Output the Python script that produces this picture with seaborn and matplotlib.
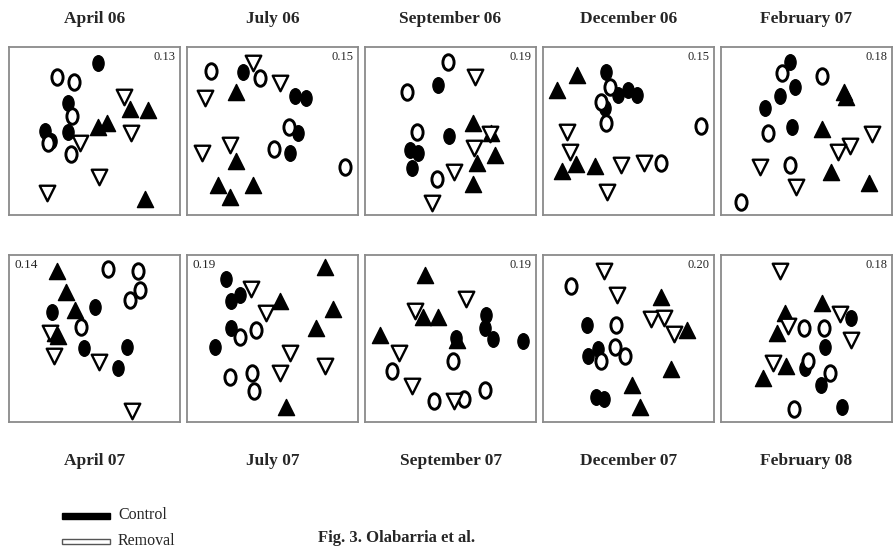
import numpy as np
import pandas as pd
import matplotlib
matplotlib.use("Agg")
import matplotlib.pyplot as plt
import seaborn as sns
from matplotlib.path import Path
from matplotlib.patches import Rectangle

sns.set_theme(style="white")
plt.rcParams['font.family'] = ['Liberation Serif', 'DejaVu Serif']

# ---------------- data (nMDS scores, arbitrary units; y grows downward) ----------------
titles = ["April 06", "July 06", "September 06", "December 06", "February 07",
          "April 07", "July 07", "September 07", "December 07", "February 08"]
stress = ["0.13", "0.15", "0.19", "0.15", "0.18",
          "0.14", "0.19", "0.19", "0.20", "0.18"]

# Each panel: control-circle (filled), removal-circle (open),
#             control-triangle (filled up), removal-triangle (open down)
apr06_cc = [(278, 68), (190, 188), (120, 272), (190, 275), (138, 302)]
apr06_rc = [(155, 110), (208, 125), (200, 228), (198, 342), (130, 308)]
apr06_ct = [(375, 208), (428, 210), (278, 262), (305, 250), (420, 478)]
apr06_rt = [(358, 172), (225, 308), (378, 280), (283, 412), (125, 458)]

jul06_cc = [(180, 95), (335, 168), (370, 175), (345, 278), (322, 340)]
jul06_rc = [(85, 92), (230, 115), (318, 262), (272, 328), (485, 382)]
jul06_ct = [(160, 155), (160, 362), (105, 435), (210, 435), (140, 470)]
jul06_rt = [(210, 70), (292, 130), (65, 175), (58, 340), (140, 315)]

sep06_cc = [(235, 135), (268, 288), (150, 330), (175, 338), (155, 385)]
sep06_rc = [(265, 65), (140, 155), (172, 275), (232, 418)]
sep06_ct = [(338, 250), (392, 278), (405, 345), (352, 368), (338, 432)]
sep06_rt = [(345, 112), (390, 282), (343, 325), (283, 395), (215, 488)]

dec06_cc = [(205, 95), (240, 165), (270, 150), (298, 165), (200, 205)]
dec06_rc = [(215, 140), (190, 185), (205, 250), (488, 258), (370, 368)]
dec06_ct = [(118, 105), (58, 150), (72, 392), (115, 372), (172, 378)]
dec06_rt = [(88, 275), (95, 335), (248, 375), (318, 368), (208, 455)]

feb07_cc = [(225, 65), (240, 140), (195, 168), (150, 205), (232, 260)]
feb07_rc = [(200, 100), (322, 108), (158, 278), (225, 375), (78, 485)]
feb07_ct = [(388, 155), (392, 170), (320, 268), (348, 395), (462, 428)]
feb07_rt = [(470, 282), (405, 318), (370, 335), (135, 380), (242, 440)]

apr07_cc = [(142, 185), (270, 170), (238, 295), (365, 290), (340, 355)]
apr07_rc = [(310, 58), (400, 62), (405, 120), (375, 150), (228, 230)]
apr07_ct = [(155, 62), (182, 125), (210, 180), (160, 258), (150, 250)]
apr07_rt = [(135, 248), (148, 318), (282, 335), (380, 482)]

jul07_cc = [(130, 88), (172, 135), (145, 152), (145, 235), (95, 290)]
jul07_rc = [(218, 240), (172, 260), (142, 382), (208, 368), (212, 422)]
jul07_ct = [(425, 50), (292, 152), (450, 178), (398, 235), (310, 470)]
jul07_rt = [(205, 118), (250, 188), (322, 308), (292, 370), (425, 348)]

sep07_cc = [(378, 195), (375, 235), (400, 268), (488, 272), (288, 265)]
sep07_rc = [(278, 332), (95, 362), (222, 452), (312, 448), (375, 420)]
sep07_ct = [(195, 75), (190, 200), (235, 200), (60, 255), (290, 270)]
sep07_rt = [(318, 148), (165, 182), (118, 310), (155, 408), (282, 452)]

dec07_cc = [(148, 225), (180, 298), (150, 318), (175, 440), (198, 448)]
dec07_rc = [(100, 108), (235, 225), (230, 292), (262, 318), (190, 332)]
dec07_ct = [(370, 140), (448, 240), (398, 358), (282, 405), (305, 470)]
dec07_rt = [(198, 62), (238, 135), (340, 208), (378, 205), (408, 252)]

feb08_cc = [(408, 205), (330, 292), (270, 355), (318, 405), (380, 470)]
feb08_rc = [(268, 235), (328, 235), (278, 332), (345, 368), (238, 478)]
feb08_ct = [(320, 160), (210, 190), (185, 248), (212, 348), (145, 385)]
feb08_rt = [(195, 62), (375, 192), (220, 228), (408, 270), (175, 338)]

panels = [
    (apr06_cc, apr06_rc, apr06_ct, apr06_rt),
    (jul06_cc, jul06_rc, jul06_ct, jul06_rt),
    (sep06_cc, sep06_rc, sep06_ct, sep06_rt),
    (dec06_cc, dec06_rc, dec06_ct, dec06_rt),
    (feb07_cc, feb07_rc, feb07_ct, feb07_rt),
    (apr07_cc, apr07_rc, apr07_ct, apr07_rt),
    (jul07_cc, jul07_rc, jul07_ct, jul07_rt),
    (sep07_cc, sep07_rc, sep07_ct, sep07_rt),
    (dec07_cc, dec07_rc, dec07_ct, dec07_rt),
    (feb08_cc, feb08_rc, feb08_ct, feb08_rt),
]
groups = ["Control circle", "Removal circle", "Control triangle", "Removal triangle"]

rows = []
for i, pan in enumerate(panels):
    for g, pts in zip(groups, pan):
        for (x, y) in pts:
            rows.append({"panel": i, "group": g, "MDS1": x, "MDS2": y})
df = pd.DataFrame(rows)

# ---------------- figure ----------------
W, H = 893, 552
fig = plt.figure(figsize=(W / 100, H / 100), dpi=100)

circ = Path.unit_circle()
ellipse = Path(circ.vertices * np.array([0.72, 1.0]), circ.codes)

styles = {
    "Control circle":   dict(marker=ellipse, color="black", edgecolor="black", s=125, linewidth=1.0),
    "Removal circle":   dict(marker=ellipse, color="white", edgecolor="black", s=125, linewidth=2.1),
    "Control triangle": dict(marker="^", color="black", edgecolor="black", s=135, linewidth=1.0),
    "Removal triangle": dict(marker="v", color="white", edgecolor="black", s=125, linewidth=1.7),
}

lefts = [9, 187, 365, 543, 721]
zoom_off = [5, 183, 360, 538, 715]
pw = 171
row_tb = [(47, 215, 40), (255, 422, 250)]

for i in range(10):
    r, c = divmod(i, 5)
    top, bot, zoff_y = row_tb[r]
    ax = fig.add_axes([lefts[c] / W, 1 - bot / H, pw / W, (bot - top) / H])
    sub = df[df.panel == i]
    for g in groups:
        d = sub[sub.group == g]
        sns.scatterplot(data=d, x="MDS1", y="MDS2", ax=ax, legend=False,
                        zorder=3, **styles[g])
    x0 = (lefts[c] - zoom_off[c]) * 3
    ax.set_xlim(x0, x0 + pw * 3)
    ax.set_ylim((bot - zoff_y) * 3, (top - zoff_y) * 3)
    ax.set_xticks([]); ax.set_yticks([])
    ax.set_xlabel(""); ax.set_ylabel("")
    for sp in ax.spines.values():
        sp.set_color("#8a8a8a"); sp.set_linewidth(1.3)
    if i in (5, 6):
        ax.text(0.03, 0.975, stress[i], transform=ax.transAxes, ha="left", va="top", fontsize=9.5)
    else:
        ax.text(0.975, 0.975, stress[i], transform=ax.transAxes, ha="right", va="top", fontsize=9)
    cx = (lefts[c] + pw / 2) / W
    if r == 0:
        fig.text(cx, 1 - 19 / H, titles[i], ha="center", va="center", fontsize=12.5, fontweight="bold")
    else:
        fig.text(cx, 1 - 461 / H, titles[i], ha="center", va="center", fontsize=12.5, fontweight="bold")

# legend drawn as a small overlay axes
lax = fig.add_axes([0, 0, 1, 1], facecolor="none")
lax.set_xlim(0, W); lax.set_ylim(H, 0); lax.axis("off")
lax.add_patch(Rectangle((62, 513), 48, 6, facecolor="black", edgecolor="black"))
lax.add_patch(Rectangle((62, 539), 48, 5, facecolor="white", edgecolor="#555555", linewidth=1))
lax.text(118, 515, "Control", ha="left", va="center", fontsize=11.5)
lax.text(118, 541, "Removal", ha="left", va="center", fontsize=11.5)
lax.text(318, 538, "Fig. 3. Olabarria et al.", ha="left", va="center", fontsize=12, fontweight="bold")

fig.savefig("out.png", dpi=100)
